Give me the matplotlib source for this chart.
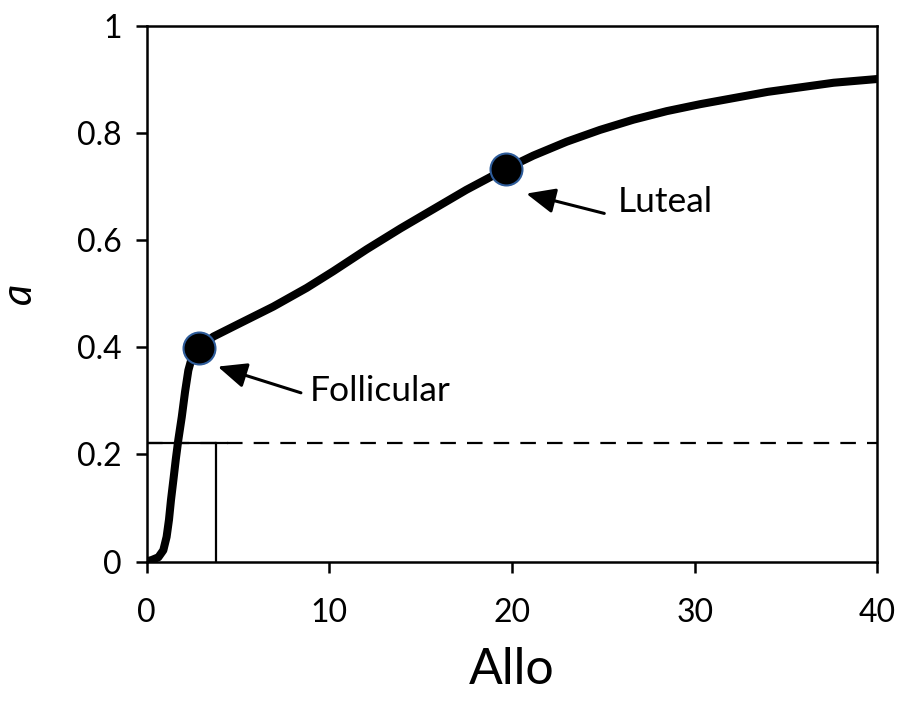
import matplotlib
matplotlib.use("Agg")
import matplotlib.pyplot as plt

plt.rcParams['font.family'] = ['Lato', 'DejaVu Sans']

# Receptor activation "a" as a function of allopregnanolone concentration
allo = [0, 0.3, 0.65, 0.92, 1.1, 1.23, 1.34, 1.47, 1.6, 1.74, 1.93, 2.11,
        2.29, 2.5, 2.85, 3.66, 5.12, 6.94, 8.77, 10.22, 12.05, 13.9, 15.7,
        17.5, 19.65, 21.17, 23.0, 24.82, 26.64, 28.47, 30.3, 34.0, 37.6, 40.0]
a_vals = [0, 0.003, 0.008, 0.021, 0.046, 0.078, 0.115, 0.152, 0.19, 0.227,
          0.27, 0.317, 0.357, 0.383, 0.398, 0.42, 0.445, 0.476, 0.511, 0.542,
          0.583, 0.622, 0.658, 0.694, 0.733, 0.758, 0.784, 0.806, 0.825,
          0.841, 0.854, 0.877, 0.894, 0.901]

# Cycle phases marked on the curve
phase_names = ["Follicular", "Luteal"]
phase_allo = [2.85, 19.65]
phase_a = [0.398, 0.733]

# Threshold guide
threshold_a = 0.222
threshold_allo = 3.82

xticks = [0, 10, 20, 30, 40]
yticks = [0, 0.2, 0.4, 0.6, 0.8, 1]
ytick_labels = ["0", "0.2", "0.4", "0.6", "0.8", "1"]

fig = plt.figure(figsize=(9.01, 7.02), dpi=100)
ax = fig.add_axes([0.1626, 0.2001, 0.8113, 0.7629])

# threshold lines
ax.plot([0, 40], [threshold_a, threshold_a], color='black', lw=1.6,
        linestyle=(0, (7, 5)), zorder=2)
ax.plot([0, threshold_allo + 0.6], [threshold_a, threshold_a], color='black',
        lw=1.6, zorder=2)
ax.plot([threshold_allo, threshold_allo], [0, threshold_a], color='black',
        lw=1.6, zorder=2)

# response curve
ax.plot(allo, a_vals, color='black', lw=5.8, solid_joinstyle='round',
        solid_capstyle='butt', zorder=3)

# phase markers
ax.plot(phase_allo, phase_a, linestyle='none', marker='o', markersize=23,
        markerfacecolor='black', markeredgecolor='#2E5C9A',
        markeredgewidth=1.5, zorder=4)

# annotations
label_pos = [(8.95, 0.318), (25.8, 0.672)]
tail_pos = [(8.45, 0.315), (25.05, 0.650)]
head_pos = [(3.9, 0.364), (20.78, 0.687)]
for name, lp, tp, hp in zip(phase_names, label_pos, tail_pos, head_pos):
    ax.annotate("", xy=hp, xytext=tp,
                arrowprops=dict(arrowstyle='-|>,head_length=0.8,head_width=0.35',
                                color='black', lw=2.2, shrinkA=0, shrinkB=0,
                                mutation_scale=22))
    ax.text(lp[0], lp[1], name, fontsize=25.5, va='center', ha='left')

ax.set_xlim(0, 40)
ax.set_ylim(0, 1)
ax.set_xticks(xticks)
ax.set_yticks(yticks)
ax.set_yticklabels(ytick_labels)
ax.tick_params(axis='both', direction='out', length=8, width=1.8,
               labelsize=23, colors='black')
ax.tick_params(axis='x', pad=18)
ax.tick_params(axis='y', pad=10)
for sp in ax.spines.values():
    sp.set_linewidth(1.8)

ax.set_xlabel("Allo", fontsize=36, labelpad=14)
ax.set_ylabel("a", fontsize=30, style='italic', labelpad=28)

fig.savefig("out.png", dpi=100)
